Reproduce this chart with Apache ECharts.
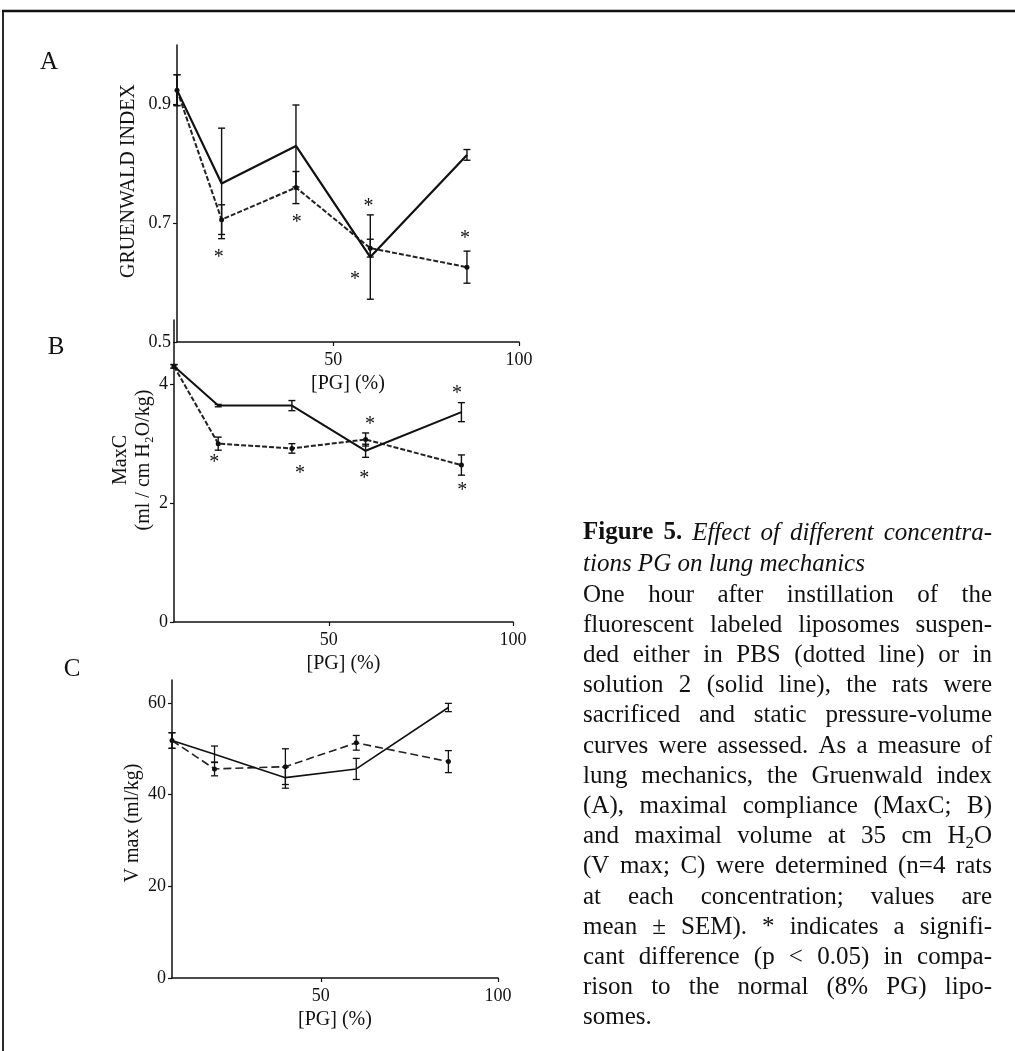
<!DOCTYPE html>
<html>
<head>
<meta charset="utf-8">
<script src="https://cdn.jsdelivr.net/npm/echarts@6/dist/echarts.min.js"></script>
<style>
  html, body { margin: 0; padding: 0; background: #ffffff; }
  #chart { width: 1015px; height: 1051px; }
</style>
</head>
<body>
<div id="chart"></div>
<script>
// PG concentration in the liposomes (%), shared by all three panels
const pgLevels = [8, 20, 40, 60, 86];
const xTicks = [50, 100];

// A: Gruenwald index (mean, SEM)
const gwPBS = [0.924, 0.706, 0.760, 0.658, 0.626];
const gwPBSErr = [0.026, 0.025, 0.027, 0.015, 0.027];
const gwSol2 = [0.924, 0.767, 0.830, 0.643, 0.815];
const gwSol2Err = [0.026, 0.093, 0.069, 0.071, 0.009];
const gwTicks = [0.5, 0.7, 0.9];
const gwStars = [[19.2, 0.650], [40.2, 0.709], [59.5, 0.736], [55.9, 0.614], [85.5, 0.683]];

// B: maximal compliance, ml / cm H2O / kg (mean, SEM)
const mcPBS = [4.30, 3.00, 2.92, 3.07, 2.64];
const mcPBSErr = [0.03, 0.11, 0.08, 0.11, 0.17];
const mcSol2 = [4.30, 3.64, 3.64, 2.88, 3.53];
const mcSol2Err = [0.03, 0.02, 0.085, 0.11, 0.16];
const mcTicks = [0, 2, 4];
const mcStars = [[18.9, 2.76], [42.2, 2.57], [61.2, 3.41], [59.6, 2.50], [84.8, 3.92], [86.2, 2.30]];

// C: maximal volume at 35 cm H2O, ml/kg (mean, SEM)
const vmPBS = [51.8, 45.6, 46.1, 51.3, 47.2];
const vmPBSErr = [1.7, 1.5, 3.9, 1.6, 2.4];
const vmSol2 = [51.8, 48.8, 43.7, 45.6, 59.0];
const vmSol2Err = [1.7, 1.8, 2.3, 2.3, 0.9];
const vmTicks = [0, 20, 40, 60];

const FONT = '"Liberation Serif", "Times New Roman", serif';
const INK = '#111111';

const chart = echarts.init(document.getElementById('chart'), null, { renderer: 'canvas', width: 1015, height: 1051 });

function xAxisFor(gi) {
  return {
    gridIndex: gi, type: 'value', min: 8, max: 100,
    name: '[PG] (%)', nameLocation: 'middle', nameGap: 32,
    nameTextStyle: { fontFamily: FONT, fontSize: 20, color: INK },
    axisLine: { onZero: false, lineStyle: { color: INK, width: 1.5 } },
    axisTick: { customValues: xTicks, length: 4, lineStyle: { color: INK, width: 1.2 } },
    axisLabel: { customValues: xTicks, margin: 9, fontFamily: FONT, fontSize: 18, color: INK },
    splitLine: { show: false }
  };
}

function yAxisFor(gi, min, max, ticks, name, gap, lift, fmt) {
  return {
    gridIndex: gi, type: 'value', min: min, max: max,
    name: name, nameLocation: 'middle', nameGap: gap,
    nameTextStyle: { fontFamily: FONT, fontSize: 20, color: INK, lineHeight: 23, padding: [0, 0, 0, lift] },
    axisLine: { onZero: false, lineStyle: { color: INK, width: 1.5 } },
    axisTick: { customValues: ticks, length: 4, lineStyle: { color: INK, width: 1.2 } },
    axisLabel: { customValues: ticks, margin: 6, fontFamily: FONT, fontSize: 18, color: INK, formatter: fmt },
    splitLine: { show: false }
  };
}

function errorBars(gi, values, errs, width) {
  return {
    type: 'custom', xAxisIndex: gi, yAxisIndex: gi, clip: false, z: 3,
    encode: { x: 0, y: [1, 2] },
    data: pgLevels.map((x, i) => [x, values[i] - errs[i], values[i] + errs[i]]),
    renderItem: function (params, api) {
      const top = api.coord([api.value(0), api.value(2)]);
      const bot = api.coord([api.value(0), api.value(1)]);
      const w = 3.5;
      const st = { stroke: INK, lineWidth: width };
      return {
        type: 'group', children: [
          { type: 'line', shape: { x1: top[0], y1: top[1], x2: bot[0], y2: bot[1] }, style: st },
          { type: 'line', shape: { x1: top[0] - w, y1: top[1], x2: top[0] + w, y2: top[1] }, style: st },
          { type: 'line', shape: { x1: bot[0] - w, y1: bot[1], x2: bot[0] + w, y2: bot[1] }, style: st }
        ]
      };
    }
  };
}

function stars(gi, pts) {
  return {
    type: 'custom', xAxisIndex: gi, yAxisIndex: gi, clip: false, z: 4,
    encode: { x: 0, y: 1 },
    data: pts,
    renderItem: function (params, api) {
      const p = api.coord([api.value(0), api.value(1)]);
      return {
        type: 'text', x: p[0], y: p[1] + 5,
        style: { text: '*', fontFamily: FONT, fontSize: 20, fill: INK, align: 'center', verticalAlign: 'middle' }
      };
    }
  };
}

function pbsLine(gi, values, dash, width) {
  return {
    type: 'line', xAxisIndex: gi, yAxisIndex: gi, z: 2,
    data: pgLevels.map((x, i) => [x, values[i]]),
    symbol: 'circle', symbolSize: 5,
    itemStyle: { color: INK },
    lineStyle: { color: '#222222', width: width, type: dash }
  };
}

function sol2Line(gi, values, width) {
  return {
    type: 'line', xAxisIndex: gi, yAxisIndex: gi, z: 2,
    data: pgLevels.map((x, i) => [x, values[i]]),
    showSymbol: false, symbol: 'none',
    lineStyle: { color: INK, width: width, type: 'solid' }
  };
}

// Caption: each line is a list of [style, text] parts; "_2" marks a subscript 2
const captionLines = [
  { j: true, parts: [['b', 'Figure 5.'], ['i', 'Effect of different concentra-']] },
  { j: false, parts: [['i', 'tions PG on lung mechanics']] },
  { j: true, parts: [['n', 'One hour after instillation of the']] },
  { j: true, parts: [['n', 'fluorescent labeled liposomes suspen-']] },
  { j: true, parts: [['n', 'ded either in PBS (dotted line) or in']] },
  { j: true, parts: [['n', 'solution 2 (solid line), the rats were']] },
  { j: true, parts: [['n', 'sacrificed and static pressure-volume']] },
  { j: true, parts: [['n', 'curves were assessed. As a measure of']] },
  { j: true, parts: [['n', 'lung mechanics, the Gruenwald index']] },
  { j: true, parts: [['n', '(A), maximal compliance (MaxC; B)']] },
  { j: true, parts: [['n', 'and maximal volume at 35 cm H_2O']] },
  { j: true, parts: [['n', '(V max; C) were determined (n=4 rats']] },
  { j: true, parts: [['n', 'at each concentration; values are']] },
  { j: true, parts: [['n', 'mean \u00b1 SEM). * indicates a signifi-']] },
  { j: true, parts: [['n', 'cant difference (p < 0.05) in compa-']] },
  { j: true, parts: [['n', 'rison to the normal (8% PG) lipo-']] },
  { j: false, parts: [['n', 'somes.']] }
];

const CAP_X = 583, CAP_W = 409, CAP_SIZE = 25, SUB_SIZE = 17;
const measureCtx = document.createElement('canvas').getContext('2d');
function fontSpec(st, size) {
  const style = st === 'i' ? 'italic ' : '';
  const weight = st === 'b' ? 'bold ' : '';
  return style + weight + size + 'px ' + FONT;
}
function segWidth(seg) {
  measureCtx.font = fontSpec(seg.st, seg.sub ? SUB_SIZE : CAP_SIZE);
  return measureCtx.measureText(seg.text).width;
}

function captionElements() {
  const out = [];
  captionLines.forEach((line, li) => {
    const cy = li === 0 ? 533 : (li === 1 ? 564.5 : 595 + (li - 2) * 30.2);
    const words = [];
    line.parts.forEach(([st, txt]) => {
      txt.split(' ').forEach(w => {
        const segs = [];
        const k = w.indexOf('_2');
        if (k >= 0) {
          segs.push({ st, text: w.slice(0, k) });
          segs.push({ st, text: '2', sub: true });
          segs.push({ st, text: w.slice(k + 2) });
        } else {
          segs.push({ st, text: w });
        }
        segs.forEach(s => { s.w = segWidth(s); });
        words.push({ segs, w: segs.reduce((a, s) => a + s.w, 0), st });
      });
    });
    const total = words.reduce((a, w) => a + w.w, 0);
    measureCtx.font = fontSpec('n', CAP_SIZE);
    const space = measureCtx.measureText(' ').width;
    const gap = line.j && words.length > 1 ? (CAP_W - total) / (words.length - 1) : space;
    let x = CAP_X;
    words.forEach(w => {
      let sx = x;
      w.segs.forEach(s => {
        out.push({
          type: 'text', x: sx, y: s.sub ? cy + 7 : cy, silent: true,
          style: {
            text: s.text, fill: INK, align: 'left', verticalAlign: 'middle',
            fontFamily: FONT, fontSize: s.sub ? SUB_SIZE : CAP_SIZE,
            fontStyle: s.st === 'i' ? 'italic' : 'normal',
            fontWeight: s.st === 'b' ? 'bold' : 'normal'
          }
        });
        sx += s.w;
      });
      x += w.w + gap;
    });
  });
  return out;
}

const panelLetters = [['A', 49, 62], ['B', 56, 347], ['C', 72, 669]];

const option = {
  backgroundColor: '#ffffff',
  animation: false,
  grid: [
    { left: 177, top: 45, width: 342, height: 297 },
    { left: 174, top: 320, width: 339, height: 302 },
    { left: 172, top: 680, width: 326, height: 298 }
  ],
  xAxis: [xAxisFor(0), xAxisFor(1), xAxisFor(2)],
  yAxis: [
    yAxisFor(0, 0.5, 1.0, gwTicks, 'GRUENWALD INDEX', 37, 25, v => v.toFixed(1)),
    yAxisFor(1, 0, 5.08, mcTicks, 'MaxC\n(ml / cm H\u2082O/kg)', 17, 22, v => String(v)),
    yAxisFor(2, 0, 65, vmTicks, 'V max (ml/kg)', 26, 12, v => String(v))
  ],
  series: [
    pbsLine(0, gwPBS, [5, 2], 2), sol2Line(0, gwSol2, 2.2),
    errorBars(0, gwPBS, gwPBSErr, 1.4), errorBars(0, gwSol2, gwSol2Err, 1.4), stars(0, gwStars),
    pbsLine(1, mcPBS, [5, 2], 2), sol2Line(1, mcSol2, 2),
    errorBars(1, mcPBS, mcPBSErr, 1.4), errorBars(1, mcSol2, mcSol2Err, 1.4), stars(1, mcStars),
    pbsLine(2, vmPBS, [8, 4], 1.6), sol2Line(2, vmSol2, 1.6),
    errorBars(2, vmPBS, vmPBSErr, 1.3), errorBars(2, vmSol2, vmSol2Err, 1.3)
  ],
  graphic: [
    // page frame: rule along the top and down the left edge
    { type: 'line', silent: true, shape: { x1: 2, y1: 11, x2: 1015, y2: 11 }, style: { stroke: INK, lineWidth: 2.5 } },
    { type: 'line', silent: true, shape: { x1: 3, y1: 10, x2: 3, y2: 1051 }, style: { stroke: INK, lineWidth: 1.8 } },
    ...panelLetters.map(([t, x, y]) => ({
      type: 'text', x: x, y: y, silent: true,
      style: { text: t, fill: INK, fontFamily: FONT, fontSize: 25, align: 'center', verticalAlign: 'middle' }
    })),
    ...captionElements()
  ]
};

chart.setOption(option);
</script>
</body>
</html>
